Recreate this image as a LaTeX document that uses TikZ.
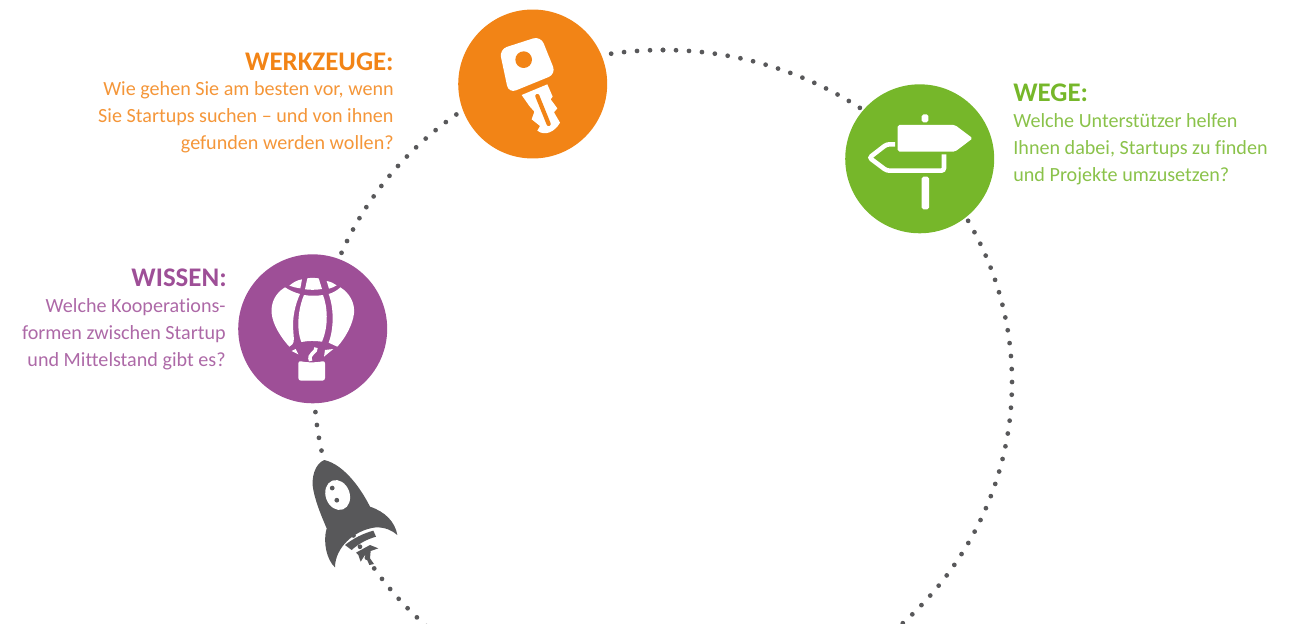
\documentclass[tikz,border=0pt]{standalone}
\usepackage{fontspec}
\setmainfont[Ligatures=NoCommon]{Carlito}
\definecolor{orangeweg}{HTML}{F28416}
\definecolor{greenweg}{HTML}{76B72A}
\definecolor{purpleweg}{HTML}{9E4F97}
\definecolor{rocketgray}{HTML}{58585A}
\tikzset{
  disc/.style={circle, minimum size=2.98cm, inner sep=0pt, draw=none},
  dotline/.style={rocketgray, line width=2.7pt, line cap=round, dash pattern=on 0pt off 7.4pt},
  headline/.style={anchor=base east, font=\fontsize{15.3}{15.3}\selectfont\bfseries, inner sep=0pt},
  bodytext/.style={font=\fontsize{11.45}{15.4}\selectfont, inner sep=0pt},
}
\begin{document}
\begin{tikzpicture}[x=0.02cm, y=0.02cm]
  \useasboundingbox (0,0) rectangle (1300,623);
  \clip (0,0) rectangle (1300,623);
  \coordinate (mitte) at (663,241);

  % 1. rocket, under the dots
  \begin{scope}[shift={(290,183)}, xscale=1/3, yscale=-1/3]
    \fill[rocketgray] (103,60) .. controls (75,70) and (62,115) .. (70,150)
      .. controls (78,190) and (95,230) .. (110,265)
      .. controls (98,305) and (110,360) .. (135,382)
      .. controls (135,325) and (190,270) .. (258,262)
      .. controls (285,262) and (305,270) .. (322,285)
      .. controls (315,245) and (285,215) .. (240,200)
      .. controls (215,150) and (165,75) .. (103,60) -- cycle;
    \fill[white, rotate around={-20:(143,165)}] (143,165) ellipse (36 and 46);
    \fill[rocketgray] (165,315) .. controls (190,295) and (220,280) .. (250,272) -- (258,290) .. controls (230,298) and (205,312) .. (185,330) -- cycle;
    \fill[rocketgray] (198,338) -- (240,315) -- (265,325) -- (242,333) -- (240,355) -- (252,372) -- (238,375) -- (225,345) -- (212,365) -- (205,345) -- cycle;
  \end{scope}

  % 2. dotted ellipse, in pieces
  \draw[dotline] (mitte) ++(90:349 and 332) arc[start angle=90, end angle=105, x radius=349, y radius=332];
  \draw[dotline] (mitte) ++(90:349 and 332) arc[start angle=90, end angle=50, x radius=349, y radius=332];
  \draw[dotline] (mitte) ++(0:349 and 332) arc[start angle=0, end angle=35, x radius=349, y radius=332];
  \draw[dotline] (mitte) ++(-2.2:349 and 332) arc[start angle=-2.2, end angle=-178, x radius=349, y radius=332];
  \draw[dotline] (mitte) ++(157.1:349 and 332) arc[start angle=157.1, end angle=120, x radius=349, y radius=332];

  % 3. discs
  \node[disc, fill=orangeweg] (werkzeuge) at (532.7,539) {};
  \node[disc, fill=greenweg] (wege) at (919.7,464.2) {};
  \node[disc, fill=purpleweg] (wissen) at (312.7,294.2) {};

  % 4. key
  \begin{scope}[shift={(450,623)}, xscale=1/3, yscale=-1/3]
    \fill[white, rounded corners=4.5pt] (148,148) -- (272,108) -- (318,222) -- (176,280) -- cycle;
    \fill[orangeweg] (221,179) circle (25);
    \fill[white] (215,285) -- (292,253) -- (308,290) -- (302,298) -- (322,325) -- (312,337) -- (330,368)
      .. controls (315,395) and (285,410) .. (262,392) -- (270,378) -- (245,358) -- (253,335) -- (238,318) -- cycle;
    \draw[orangeweg, line width=2.4pt, line cap=round] (262,288) -- (296,372);
  \end{scope}

  % 5. signpost
  \begin{scope}[shift={(835,548)}, xscale=1/3, yscale=-1/3]
    \fill[white, rounded corners=1pt] (260,118) rectangle (280,142);
    \fill[white, rounded corners=1pt] (188,150) -- (360,150) -- (413,190) -- (360,230) -- (188,230) -- cycle;
    \draw[white, line width=2.6pt, rounded corners=1.5pt] (180,208) -- (155,208) -- (103,248) -- (155,287) -- (327,287) -- (327,238);
    \fill[white, rounded corners=1pt] (260,305) rectangle (282,403);
  \end{scope}

  % 6. balloon
  \begin{scope}[shift={(230,378)}, xscale=1/3, yscale=-1/3]
    \fill[white] (178,122) .. controls (190,112) and (200,106) .. (216,103) -- (211,130) .. controls (198,128) and (188,126) .. (178,122) -- cycle;
    \fill[white] (232,100) .. controls (245,98) and (255,98) .. (266,100) -- (276,132) .. controls (258,135) and (240,135) .. (225,133) -- cycle;
    \fill[white] (290,108) .. controls (302,110) and (312,115) .. (320,121) .. controls (312,126) and (305,129) .. (297,131) -- cycle;
    \fill[white] (165,127) .. controls (135,145) and (122,175) .. (125,205) .. controls (128,240) and (155,280) .. (178,305)
      .. controls (195,295) and (192,290) .. (190,260) .. controls (186,220) and (195,180) .. (210,147) .. controls (195,143) and (178,136) .. (165,127) -- cycle;
    \fill[white] (222,150) .. controls (240,153) and (260,153) .. (279,150) .. controls (292,185) and (297,240) .. (276,290)
      .. controls (255,287) and (235,287) .. (214,291) .. controls (198,250) and (205,190) .. (222,150) -- cycle;
    \fill[white] (296,147) .. controls (310,143) and (322,136) .. (331,127) .. controls (360,145) and (375,175) .. (372,205)
      .. controls (368,240) and (345,280) .. (322,305) .. controls (312,300) and (305,298) .. (296,293) .. controls (312,250) and (312,190) .. (296,147) -- cycle;
    \fill[white] (185,318) -- (197,312) -- (205,328) -- cycle;
    \fill[white] (282,335) -- (285,315) -- (310,312) -- cycle;
    \draw[white, line width=2pt] (258,308) .. controls (262,322) and (232,325) .. (242,348);
    \fill[white, rounded corners=1.5pt] (205,347) .. controls (230,353) and (260,353) .. (285,347) -- (285,407) -- (205,407) -- cycle;
  \end{scope}

  % 7. labels
  \node[headline, text=orangeweg] (werkzeugetitel) at (394,552) {WERKZEUGE:};
  \node[bodytext, text=orangeweg!85!white, align=right, anchor=north east] (werkzeugetext) at (394,542) {Wie gehen Sie am besten vor, wenn\\Sie Startups suchen – und von ihnen\\gefunden werden wollen?};
  \node[headline, text=greenweg, anchor=base west] (wegetitel) at (1013,521) {WEGE:};
  \node[bodytext, text=greenweg!85!white, align=left, anchor=north west] (wegetext) at (1013,510) {Welche Unterstützer helfen\\Ihnen dabei, Startups zu finden\\und Projekte umzusetzen?};
  \node[headline, text=purpleweg] (wissentitel) at (227,337) {WISSEN:};
  \node[bodytext, text=purpleweg!85!white, align=right, anchor=north east] (wissentext) at (226,325) {Welche Kooperations-\\formen zwischen Startup\\und Mittelstand gibt es?};
\end{tikzpicture}
\end{document}
